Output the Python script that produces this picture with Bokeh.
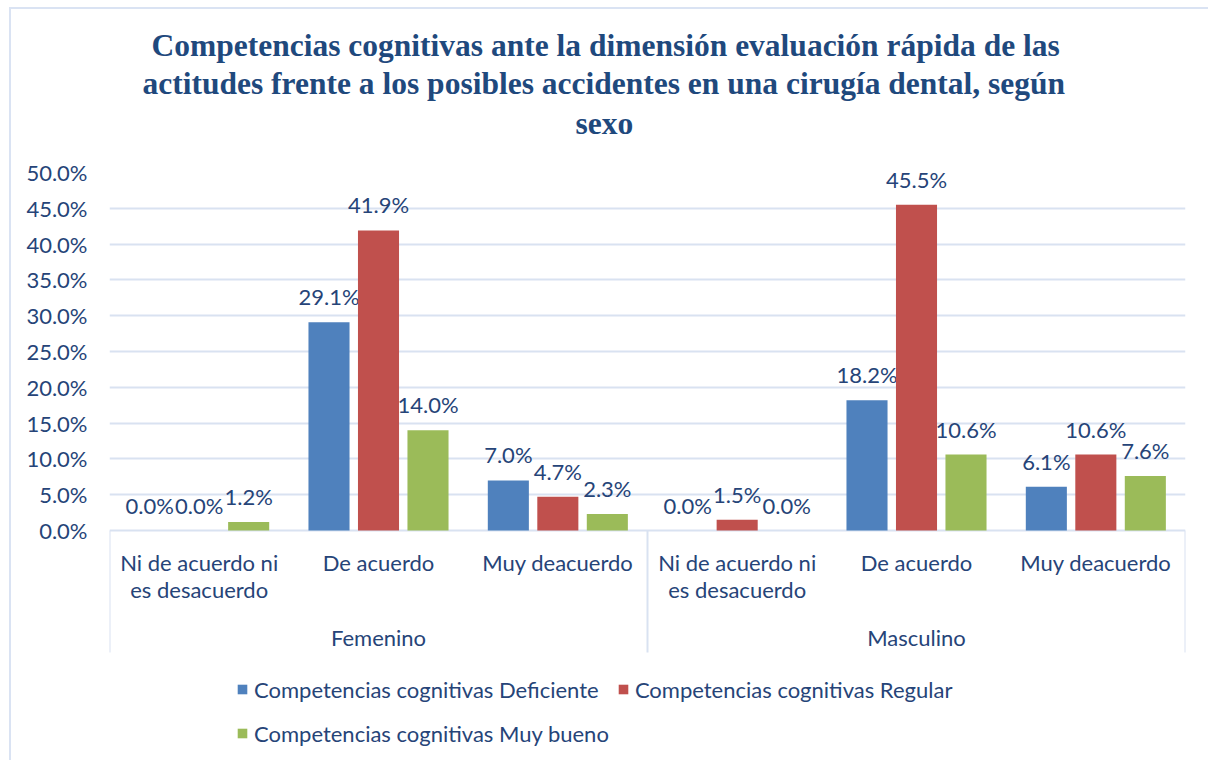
from bokeh.plotting import figure
from bokeh.models import FactorRange, Range1d, FixedTicker, ColumnDataSource, Title
from bokeh.transform import dodge
from bokeh.core.properties import value
from bokeh.embed import file_html
from bokeh.resources import INLINE

# ---------------- data ----------------
sexes = ["Femenino", "Masculino"]
categories = ["Ni de acuerdo ni\nes desacuerdo", "De acuerdo", "Muy deacuerdo"]
deficiente = [0.0, 29.1, 7.0, 0.0, 18.2, 6.1]
regular = [0.0, 41.9, 4.7, 1.5, 45.5, 10.6]
muy_bueno = [1.2, 14.0, 2.3, 0.0, 10.6, 7.6]
series_names = [
    "Competencias cognitivas Deficiente",
    "Competencias cognitivas Regular",
    "Competencias cognitivas Muy bueno",
]
y_ticks = [0, 5, 10, 15, 20, 25, 30, 35, 40, 45, 50]
title_lines = [
    "Competencias cognitivas ante la dimensión evaluación rápida de las",
    "actitudes frente a los posibles accidentes en una cirugía dental, según",
    "sexo",
]

# ---------------- styles ----------------
TXT = "#264478"
TITLE_C = "#1F497D"
GRID = "#D9E2F1"
BORDER = "#DAE3F3"
COLORS = ["#4F81BD", "#C0504D", "#9BBB59"]
FONT = "Lato"
FS = "22px"
# horizontal offsets (px from frame left) that centre each title line on the chart
title_offsets = [42, 33, 466]
title_standoffs = [1, 1, 5]

factors = [(s, c) for s in sexes for c in categories]

W, H = 1208, 760
LEFT, TOP = 109, 172
RIGHT = W - 1185
PX_PER_UNIT = 7.16
frame_h = H - TOP
y_min = y_ticks[-1] - frame_h / PX_PER_UNIT

p = figure(
    width=W, height=H, title=None,
    x_range=FactorRange(*factors, range_padding=0, group_padding=0, factor_padding=0),
    y_range=Range1d(y_min, y_ticks[-1]),
    x_axis_location=None,
    output_backend="svg", toolbar_location=None,
    min_border_left=LEFT, min_border_right=RIGHT, min_border_top=TOP, min_border_bottom=0,
)
p.outline_line_color = None
p.background_fill_color = "white"
p.border_fill_alpha = 0
p.styles = {
    "background-color": "white",
    "background-image": f"linear-gradient({BORDER},{BORDER}), linear-gradient({BORDER},{BORDER})",
    "background-size": "2px 100%, 100% 2px",
    "background-position": "9px 7px, 9px 7px",
    "background-repeat": "no-repeat, no-repeat",
}

# spacer between the plot area and the title block
p.add_layout(Title(text=" ", text_font_size="2px", standoff=25), "above")
# title: three lines, added from the frame outward
for line, off, so in reversed(list(zip(title_lines, title_offsets, title_standoffs))):
    t = Title(text=line, align="left", text_font="Liberation Serif",
              text_font_style="bold", text_font_size="31.5px", text_color=TITLE_C,
              offset=off, standoff=so)
    p.add_layout(t, "above")

# y axis
p.yaxis.ticker = FixedTicker(ticks=y_ticks)
p.yaxis.major_label_overrides = {t: f"{t:.1f}%" for t in y_ticks}
p.yaxis.axis_line_color = None
p.yaxis.major_tick_line_color = None
p.yaxis.minor_tick_line_color = None
p.yaxis.major_tick_out = 0
p.yaxis.major_tick_in = 0
p.yaxis.major_label_standoff = 22
p.yaxis.major_label_text_font = FONT
p.yaxis.major_label_text_font_size = FS
p.yaxis.major_label_text_color = TXT

p.ygrid.ticker = FixedTicker(ticks=y_ticks)
p.ygrid.grid_line_color = GRID
p.ygrid.grid_line_width = 2
p.xgrid.visible = False

# bars + labels
src = ColumnDataSource(dict(
    x=factors,
    d=deficiente, r=regular, m=muy_bueno,
    d_lbl=[f"{v:.1f}%" for v in deficiente],
    r_lbl=[f"{v:.1f}%" for v in regular],
    m_lbl=[f"{v:.1f}%" for v in muy_bueno],
))
offsets = [-0.276, 0.0, 0.276]
for key, off, col, name in zip(["d", "r", "m"], offsets, COLORS, series_names):
    p.vbar(x=dodge("x", off, range=p.x_range), top=key, width=0.229, source=src,
           fill_color=col, line_color=None, legend_label=name)
    p.text(x=dodge("x", off, range=p.x_range), y=key, text=key + "_lbl", source=src,
           text_align="center", text_baseline="bottom", y_offset=-12,
           text_font=value(FONT), text_font_size=FS, text_color=TXT)

# category axis (multi-level)
n = len(categories)
bounds = [i * n for i in range(len(sexes) + 1)]
p.segment(x0=bounds, y0=[0] * len(bounds), x1=bounds, y1=[-17.04] * len(bounds),
          line_color=GRID, line_width=2)
cat_src = ColumnDataSource(dict(x=factors, y=[-2.65] * len(factors),
                                t=[c for s in sexes for c in categories]))
p.text(x="x", y="y", text="t", source=cat_src, text_align="center", text_baseline="top",
       text_line_height=1.0, text_font=value(FONT), text_font_size=FS, text_color=TXT)
grp_src = ColumnDataSource(dict(x=sexes, y=[-14.94] * len(sexes), t=sexes))
p.text(x="x", y="y", text="t", source=grp_src, text_align="center", text_baseline="middle",
       text_font=value(FONT), text_font_size=FS, text_color=TXT)

# legend
lg = p.legend[0]
lg.orientation = "horizontal"
lg.ncols = 2
lg.location = (127, 9)
lg.padding = 0
lg.margin = 0
lg.spacing = 8
lg.glyph_width = 12
lg.glyph_height = 12
lg.label_height = 36
lg.label_standoff = 6
lg.label_text_font = FONT
lg.label_text_font_size = FS
lg.label_text_color = TXT
lg.background_fill_alpha = 0
lg.border_line_color = None

open("out.html", "w").write(file_html(p, INLINE))
